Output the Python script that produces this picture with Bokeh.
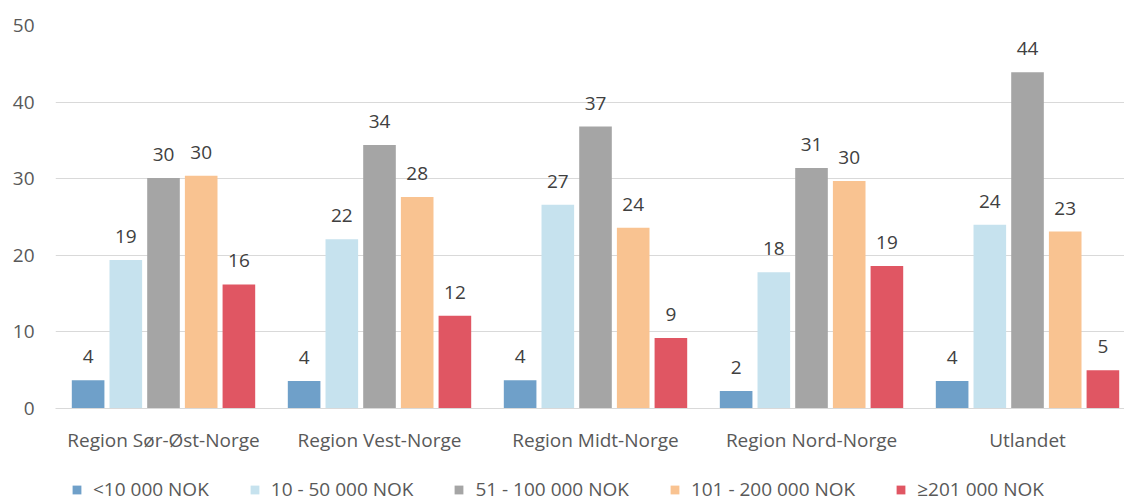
from bokeh.plotting import figure
from bokeh.layouts import column
from bokeh.models import ColumnDataSource, Range1d, FixedTicker, LabelSet, Legend, LegendItem
from bokeh.core.properties import value
from bokeh.embed import file_html
from bokeh.resources import INLINE

categories = ["Region Sør-Øst-Norge", "Region Vest-Norge", "Region Midt-Norge",
              "Region Nord-Norge", "Utlandet"]
series_names = ["<10 000 NOK", "10 - 50 000 NOK", "51 - 100 000 NOK",
                "101 - 200 000 NOK", "≥201 000 NOK"]
s1 = [3.7, 3.6, 3.7, 2.3, 3.6]
s2 = [19.4, 22.1, 26.6, 17.8, 24.0]
s3 = [30.1, 34.4, 36.8, 31.4, 43.9]
s4 = [30.4, 27.6, 23.6, 29.7, 23.1]
s5 = [16.2, 12.1, 9.2, 18.6, 5.0]
labels = [["4", "4", "4", "2", "4"],
          ["19", "22", "27", "18", "24"],
          ["30", "34", "37", "31", "44"],
          ["30", "28", "24", "30", "23"],
          ["16", "12", "9", "19", "5"]]
colors = ["#6fa0c9", "#c6e2ee", "#a5a5a5", "#f9c391", "#e05663"]
y_ticks = [0, 10, 20, 30, 40, 50]

FONT = "Open Sans"
FS = "19px"
series = [s1, s2, s3, s4, s5]

p = figure(width=1124, height=455, output_backend="svg", toolbar_location=None,
           x_range=Range1d(0, 4.949), y_range=Range1d(0, 50),
           min_border_left=55, min_border_right=0, min_border_top=25, min_border_bottom=43)
p.outline_line_color = None
p.background_fill_color = "white"

# legend strip (separate figure below the chart)
pl = figure(width=1124, height=42, output_backend="svg", toolbar_location=None,
            x_range=Range1d(0, 5), y_range=Range1d(100, 101),
            x_axis_location=None, y_axis_location=None,
            min_border_left=0, min_border_right=0, min_border_top=0, min_border_bottom=0)
pl.grid.visible = False
pl.outline_line_color = None

step = 0.1745
bw = 0.151
items = []
for i, (vals, col) in enumerate(zip(series, colors)):
    xs = [k + 0.5 + (i - 2) * step for k in range(len(categories))]
    src = ColumnDataSource(dict(x=xs, top=vals, lab=labels[i]))
    p.vbar(x="x", top="top", width=bw, bottom=0, source=src,
           fill_color=col, line_color=None)
    ls = LabelSet(x="x", y="top", text="lab", source=src, y_offset=17,
                  text_align="center", text_baseline="alphabetic",
                  text_font=value(FONT), text_font_size=FS, text_color="#404040")
    p.add_layout(ls)
    # same bars in the legend strip, outside its visible range (legend proxies)
    r = pl.vbar(x="x", top="top", width=bw, bottom=0, source=src,
                fill_color=col, line_color=None)
    items.append(LegendItem(label=series_names[i], renderers=[r]))

p.xaxis.ticker = FixedTicker(ticks=[k + 0.5 for k in range(len(categories))])
p.xaxis.major_label_overrides = {k + 0.5: c for k, c in enumerate(categories)}
p.xaxis.major_tick_line_color = None
p.xaxis.minor_tick_line_color = None
p.xaxis.axis_line_color = "#d9d9d9"
p.xaxis.major_label_text_font = FONT
p.xaxis.major_label_text_font_size = FS
p.xaxis.major_label_text_color = "#595959"
p.xaxis.major_label_standoff = 12
p.xgrid.grid_line_color = None

p.yaxis.ticker = FixedTicker(ticks=y_ticks)
p.yaxis.major_tick_line_color = None
p.yaxis.minor_tick_line_color = None
p.yaxis.axis_line_color = None
p.yaxis.major_label_text_font = FONT
p.yaxis.major_label_text_font_size = FS
p.yaxis.major_label_text_color = "#595959"
p.yaxis.major_label_standoff = 15
p.ygrid.ticker = FixedTicker(ticks=y_ticks)
p.ygrid.grid_line_color = "#d9d9d9"
p.ygrid.grid_line_width = 1

legend = Legend(items=items, orientation="horizontal", location=(16, -5),
                label_text_font=FONT, label_text_font_size=FS,
                label_text_color="#595959", glyph_width=11, glyph_height=11,
                label_standoff=11, spacing=40, border_line_color=None,
                background_fill_alpha=0, padding=0, margin=0,
                label_height=19)
pl.add_layout(legend)

layout = column(p, pl, spacing=0)
open("out.html", "w").write(file_html(layout, INLINE))
